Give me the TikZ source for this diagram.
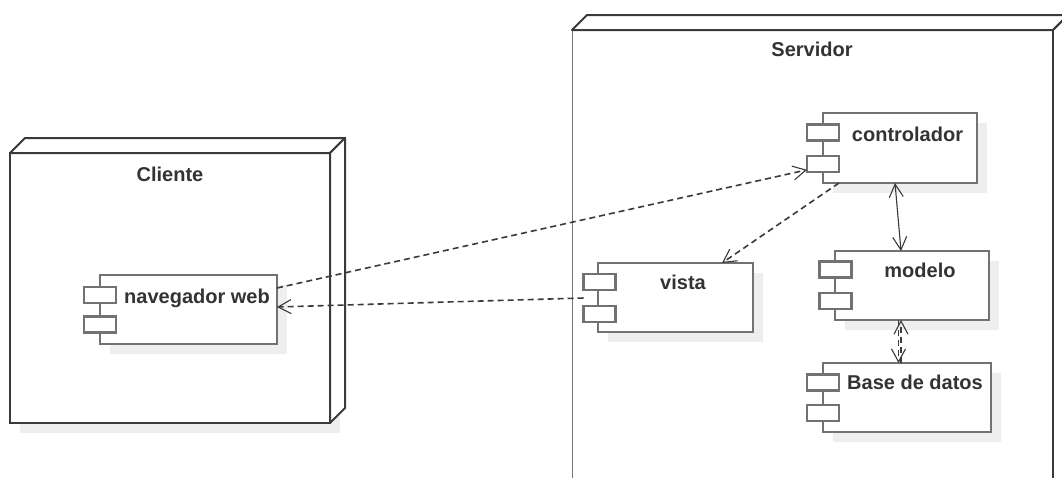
\documentclass[tikz,border=0pt]{standalone}
\usepackage{fontspec}
\setmainfont{Liberation Sans}
\usetikzlibrary{arrows.meta,calc,shadows}
\definecolor{edge}{HTML}{3A3A3A}
\definecolor{comp}{HTML}{727272}
\definecolor{shade}{HTML}{EEEEEE}
\definecolor{txt}{HTML}{333333}
\begin{document}
\begin{tikzpicture}[x=1pt,y=-1pt,
  nodeface/.style={rectangle, draw=edge, line width=2pt, fill=white, inner sep=0, outer sep=0},
  shd/.style={drop shadow={shadow xshift=10pt, shadow yshift=-10pt, fill=shade, opacity=1, draw=none}},
  compbox/.style={rectangle, draw=comp, line width=2.4pt, fill=white, inner sep=0, outer sep=0, shd},
  port/.style={rectangle, draw=comp, line width=2.4pt, fill=white, inner sep=0, outer sep=0, minimum width=32pt, minimum height=16pt},
  lbl/.style={text=txt, font=\fontsize{20}{24}\selectfont\bfseries, inner sep=0, anchor=base},
  tip/.tip={Straight Barb[length=13pt,width=14pt,line width=1.1pt]},
  dep/.style={draw=edge, line width=1.6pt, dash pattern=on 6pt off 4pt},
  assoc/.style={draw=edge, line width=1.1pt},
]
\useasboundingbox (0,0) rectangle (1062,477);

% ---------- Cliente node ----------
\node[nodeface, minimum width=320pt, minimum height=270pt,
      drop shadow={shadow xshift=10pt, shadow yshift=-10pt, fill=shade, opacity=1, draw=none}]
      (cliente) at (170,288) {};
\draw[edge, line width=2pt, fill=white, line join=round]
  (cliente.north west) -- ++(15,-15) -- ++(320,0) -- (cliente.north east) -- cycle;
\draw[edge, line width=2pt, fill=white, line join=round]
  (cliente.north east) -- ++(15,-15) -- ++(0,270) -- (cliente.south east) -- cycle;
\node[lbl] (cliente-l) at (170,181) {Cliente};

% ---------- Servidor node ----------
\node[rectangle, inner sep=0, outer sep=0, fill=white, minimum width=481pt, minimum height=462pt]
      (srv) at (812.5,261) {};
\draw[comp, line width=1pt] (srv.north west) -- (srv.south west);
\draw[edge, line width=2pt, line join=round]
  (srv.north west) -- ++(15,-15) -- ++(481,0) -- (srv.north east) -- cycle;
\draw[edge, line width=2pt, line join=round]
  (srv.north east) -- ++(15,-15) -- ++(0,470);
\draw[edge, line width=2pt] (srv.north east) -- (srv.south east);
\node[lbl] (srv-l) at (812,56) {Servidor};

% ---------- components ----------
% navegador web
\node[compbox, minimum width=177pt, minimum height=69pt] (nav) at (188.5,309.5) {};
\node[port] (nav-p1) at (100,295) {};
\node[port] (nav-p2) at (100,324.5) {};
\node[lbl] (nav-l) at (197,303) {navegador web};

% controlador
\node[compbox, minimum width=154pt, minimum height=70pt] (ctrl) at (900,148) {};
\node[port] (ctrl-p1) at (823,132.5) {};
\node[port] (ctrl-p2) at (823,164) {};
\node[lbl] (ctrl-l) at (907.5,141) {controlador};

% vista
\node[compbox, minimum width=155pt, minimum height=69pt] (vista) at (675.5,297.5) {};
\node[port] (vista-p1) at (599.5,282) {};
\node[port] (vista-p2) at (599.5,314) {};
\node[lbl] (vista-l) at (683,289) {vista};

% modelo
\node[compbox, minimum width=154pt, minimum height=69pt] (modelo) at (912,285.5) {};
\node[port] (modelo-p1) at (835.5,269.5) {};
\node[port] (modelo-p2) at (835.5,301) {};
\node[lbl] (modelo-l) at (920,277) {modelo};

% Base de datos
\node[compbox, minimum width=168pt, minimum height=69pt] (bd) at (907,397.5) {};
\node[port] (bd-p1) at (823,382.5) {};
\node[port] (bd-p2) at (823,413) {};
\node[lbl] (bd-l) at (915,389) {Base de datos};

% ---------- connectors ----------
\draw[dep, -tip] ($(nav.north east)+(0,13)$) -- (ctrl-p2.200);
\draw[dep, -tip] ($(vista-p1.south west)!0.5!(vista-p2.north west)$) -- ($(nav.east)+(0,-2.5)$);
\draw[dep, -tip] ($(ctrl.south west)+(16,0)$) -- ($(vista.north)+(46.5,0)$);
\draw[assoc, tip-tip] ($(ctrl.south)+(-5,0)$) -- ($(modelo.north)+(-11,0)$);
\draw[dep, -tip] ($(modelo.south)+(-13.5,0)$) -- ($(bd.north)+(-8.5,0)$);
\draw[dep, -tip] ($(bd.north)+(-6,0)$) -- ($(modelo.south)+(-11,0)$);
\end{tikzpicture}
\end{document}
